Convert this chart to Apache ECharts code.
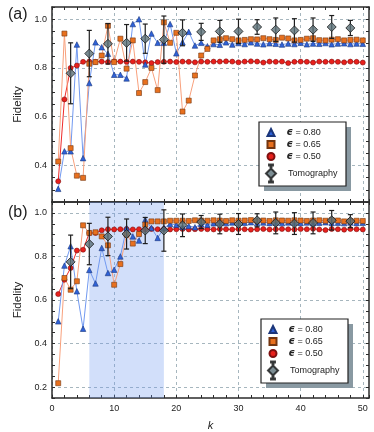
<!DOCTYPE html>
<html>
<head>
<meta charset="utf-8">
<script src="https://cdn.jsdelivr.net/npm/echarts@6/dist/echarts.min.js"></script>
<style>
html, body { margin: 0; padding: 0; background: #fff; }
#main { width: 374px; height: 432px; }
</style>
</head>
<body>
<div id="main"></div>
<script>
var kVals = [1,2,3,4,5,6,7,8,9,10,11,12,13,14,15,16,17,18,19,20,21,22,23,24,25,
             26,27,28,29,30,31,32,33,34,35,36,37,38,39,40,41,42,43,44,45,46,47,48,49,50];
var tomoK = [3,6,9,12,15,18,21,24,27,30,33,36,39,42,45,48];

// panel (a)
var topE80 = [0.304,0.458,0.458,0.896,0.430,0.738,0.905,0.885,0.858,0.772,
              0.772,0.757,0.980,1.000,0.814,0.941,0.903,0.903,0.980,0.860,
              0.905,0.948,0.892,0.903,0.889,0.898,0.895,0.905,0.896,0.902,
              0.898,0.905,0.900,0.897,0.901,0.899,0.896,0.900,0.898,0.903,
              0.897,0.900,0.899,0.902,0.897,0.900,0.901,0.898,0.900,0.899];
var topE65 = [0.416,0.941,0.471,0.358,0.349,0.817,0.824,0.851,0.973,0.824,
              0.920,0.797,0.913,0.697,0.742,0.800,0.709,0.987,0.903,0.944,
              0.621,0.666,0.769,0.851,0.878,0.913,0.918,0.922,0.918,0.913,
              0.915,0.918,0.917,0.922,0.918,0.915,0.924,0.921,0.913,0.915,
              0.920,0.922,0.914,0.913,0.916,0.918,0.913,0.915,0.916,0.913];
var topE50 = [0.335,0.671,0.800,0.810,0.825,0.826,0.825,0.826,0.824,0.827,
              0.826,0.825,0.826,0.825,0.823,0.820,0.824,0.825,0.826,0.824,
              0.826,0.825,0.823,0.826,0.825,0.826,0.826,0.827,0.826,0.823,
              0.826,0.827,0.826,0.822,0.826,0.825,0.826,0.820,0.825,0.826,
              0.825,0.822,0.826,0.825,0.826,0.825,0.823,0.826,0.825,0.822];
var topTomo = [0.778,0.859,0.899,0.903,0.920,0.916,0.944,0.948,0.950,0.950,0.968,0.957,0.954,0.957,0.968,0.964];
var topTomoErr = [0.125,0.095,0.083,0.075,0.060,0.097,0.053,0.035,0.045,0.050,0.030,0.048,0.048,0.048,0.047,0.031];

// panel (b)
var botE80 = [0.502,0.758,0.847,0.640,0.468,0.738,0.676,0.839,0.724,0.739,
              0.800,0.931,0.892,0.873,0.969,0.931,0.885,0.931,0.949,0.945,
              0.935,0.940,0.934,0.948,0.945,0.952,0.955,0.953,0.956,0.954,
              0.955,0.957,0.953,0.956,0.954,0.955,0.953,0.956,0.955,0.954,
              0.956,0.953,0.955,0.957,0.954,0.955,0.953,0.956,0.954,0.955];
var botE65 = [0.218,0.701,0.647,0.686,0.943,0.908,0.911,0.892,0.851,0.670,
              0.765,0.900,0.859,0.903,0.946,0.961,0.961,0.961,0.964,0.964,
              0.964,0.963,0.966,0.965,0.964,0.966,0.965,0.963,0.966,0.964,
              0.965,0.967,0.964,0.965,0.963,0.966,0.965,0.964,0.966,0.965,
              0.963,0.965,0.966,0.964,0.967,0.965,0.961,0.963,0.964,0.963];
var botE50 = [0.627,0.693,0.747,0.827,0.831,0.908,0.908,0.920,0.925,0.924,
              0.925,0.926,0.924,0.925,0.923,0.926,0.925,0.926,0.924,0.925,
              0.926,0.924,0.925,0.926,0.925,0.924,0.926,0.925,0.924,0.926,
              0.925,0.923,0.925,0.926,0.924,0.925,0.926,0.925,0.924,0.926,
              0.925,0.927,0.924,0.921,0.926,0.925,0.923,0.926,0.925,0.924];
var botTomo = [0.775,0.857,0.892,0.903,0.919,0.919,0.943,0.958,0.949,0.949,0.966,0.954,0.951,0.954,0.966,0.962];
var botTomoErr = [0.123,0.095,0.088,0.069,0.060,0.095,0.052,0.030,0.045,0.048,0.030,0.050,0.050,0.050,0.045,0.030];

var shadeRange = [6, 18];
var names = ['ϵ = 0.80', 'ϵ = 0.65', 'ϵ = 0.50', 'Tomography'];

var myChart = echarts.init(document.getElementById('main'));

var AX = '#2b2b2b';
var GRIDC = '#a6b6be';
var NONE = 'rgba(0,0,0,0)';
var FONT = 'Liberation Sans';

function pairs(xs, ys) {
    return xs.map(function (x, i) { return [x, ys[i]]; });
}
function errData(xs, ys, es) {
    return xs.map(function (x, i) { return [x, ys[i] - es[i], ys[i] + es[i]]; });
}

function errBar(params, api) {
    var x = api.value(0);
    var lo = api.coord([x, api.value(1)]);
    var hi = api.coord([x, api.value(2)]);
    var w = 2.5;
    var st = { stroke: '#1e1e1e', lineWidth: 1.2 };
    return {
        type: 'group',
        children: [
            { type: 'line', shape: { x1: lo[0], y1: lo[1], x2: hi[0], y2: hi[1] }, style: st },
            { type: 'line', shape: { x1: lo[0] - w, y1: lo[1], x2: lo[0] + w, y2: lo[1] }, style: st },
            { type: 'line', shape: { x1: hi[0] - w, y1: hi[1], x2: hi[0] + w, y2: hi[1] }, style: st }
        ]
    };
}

function panelSeries(g, e80, e65, e50, tomo, err, shade) {
    var s = [];
    if (shade) {
        s.push({
            type: 'line', xAxisIndex: g * 2, yAxisIndex: g * 2, data: [], silent: true, z: 1,
            markArea: {
                silent: true,
                itemStyle: { color: 'rgba(110,152,239,0.31)' },
                data: [[{ xAxis: shade[0] }, { xAxis: shade[1] }]]
            }
        });
    }
    s.push({
        name: names[2], type: 'line', xAxisIndex: g * 2, yAxisIndex: g * 2,
        data: pairs(kVals, e50), symbol: 'circle', symbolSize: 5,
        lineStyle: { color: '#ee2a2a', width: 1 },
        itemStyle: { color: '#e8201c', borderColor: '#7e1010', borderWidth: 0.6 }, z: 2
    });
    s.push({
        name: names[0], type: 'line', xAxisIndex: g * 2, yAxisIndex: g * 2,
        data: pairs(kVals, e80), symbol: 'triangle', symbolSize: 5.5,
        lineStyle: { color: '#7199f0', width: 1 },
        itemStyle: { color: '#2f62d8', borderColor: '#1b367a', borderWidth: 0.6 }, z: 2
    });
    s.push({
        name: names[1], type: 'line', xAxisIndex: g * 2, yAxisIndex: g * 2,
        data: pairs(kVals, e65), symbol: 'rect', symbolSize: 5,
        lineStyle: { color: '#f8a07c', width: 1 },
        itemStyle: { color: '#e8701e', borderColor: '#733510', borderWidth: 0.6 }, z: 2
    });
    s.push({
        type: 'custom', xAxisIndex: g * 2, yAxisIndex: g * 2,
        data: errData(tomoK, tomo, err), renderItem: errBar,
        encode: { x: 0, y: [1, 2] }, z: 3, silent: true
    });
    s.push({
        name: names[3], type: 'scatter', xAxisIndex: g * 2, yAxisIndex: g * 2,
        data: pairs(tomoK, tomo), symbol: 'diamond', symbolSize: 9,
        itemStyle: { color: '#5b7078', borderColor: '#161616', borderWidth: 1 }, z: 4
    });
    return s;
}

function xAx(g, pos, labels) {
    return {
        type: 'value', gridIndex: g, position: pos, min: 0, max: 51, interval: 2,
        axisLine: { onZero: false, lineStyle: { color: AX, width: 1.5 } },
        axisTick: { inside: true, length: 3, lineStyle: { color: AX, width: 1 } },
        axisLabel: {
            show: labels, margin: 6, fontSize: 9, color: '#222', fontFamily: FONT,
            formatter: function (v) { return v % 10 === 0 ? String(v) : ''; }
        },
        splitLine: {
            show: pos === 'bottom',
            lineStyle: { type: [3, 3], width: 1, color: [GRIDC, NONE, NONE, NONE, NONE] }
        }
    };
}

function yAx(g, pos, min, colors) {
    var left = pos === 'left';
    return {
        type: 'value', gridIndex: g, position: pos, min: min, max: 1.05, interval: 0.05,
        name: left ? 'Fidelity' : '', nameLocation: 'middle', nameGap: 21,
        nameTextStyle: { fontSize: 11.5, color: '#222', fontFamily: FONT },
        axisLine: { onZero: false, lineStyle: { color: AX, width: 1.5 } },
        axisTick: { inside: true, length: 3, lineStyle: { color: AX, width: 1 } },
        axisLabel: {
            show: left, margin: 5, fontSize: 9, color: '#222', fontFamily: FONT,
            formatter: function (v) {
                var r = Math.round(v * 5);
                return Math.abs(v * 5 - r) < 1e-6 ? (r / 5).toFixed(1) : '';
            }
        },
        splitLine: { show: left, lineStyle: { type: [3, 3], width: 1, color: colors } }
    };
}

var tomoIcon = 'path://M3,0H7V1H5.5V4.5L10,9L5.5,13.5V17H7V18H3V17H4.5V13.5L0,9L4.5,4.5V1H3Z';

function legendsFor(left, top) {
    var ts = {
        fontSize: 9, color: '#222', fontFamily: FONT, lineHeight: 9, padding: [0, 0, 0, 7],
        rich: { e: { fontSize: 10, fontWeight: 'bold', fontStyle: 'italic', fontFamily: 'DejaVu Sans', lineHeight: 9 } }
    };
    return [{
        z: 20, orient: 'vertical', left: left, top: top, padding: 0,
        itemWidth: 7, itemHeight: 7, itemGap: 2, selectedMode: false,
        lineStyle: { width: 0, opacity: 0 },
        data: [{ name: names[0], icon: 'triangle' }, { name: names[1], icon: 'rect' }, { name: names[2], icon: 'circle' }],
        formatter: function (n) { return n.replace('ϵ', '{e|ϵ}'); },
        textStyle: ts
    }, {
        z: 20, orient: 'vertical', left: left - 1.5, top: top + 36, padding: 0,
        itemWidth: 10, itemHeight: 18, selectedMode: false,
        data: [{ name: names[3], icon: tomoIcon }],
        textStyle: ts
    }];
}

function box(x, y) {
    return [
        { type: 'rect', z: 10, shape: { x: x + 5, y: y + 5, width: 87, height: 64 }, style: { fill: '#8999a2' } },
        { type: 'rect', z: 11, shape: { x: x, y: y, width: 87, height: 64 }, style: { fill: '#fff', stroke: '#222', lineWidth: 1.2 } }
    ];
}

var option = {
    animation: false,
    textStyle: { fontFamily: FONT },
    grid: [
        { left: 52, right: 5, top: 7, height: 195 },
        { left: 52, right: 5, top: 202, height: 196 }
    ],
    xAxis: [
        xAx(0, 'bottom', false),
        xAx(0, 'top', false),
        Object.assign(xAx(1, 'bottom', true), {
            name: 'k', nameLocation: 'middle', nameGap: 22,
            nameTextStyle: { fontStyle: 'italic', fontSize: 11, color: '#222', fontFamily: FONT }
        }),
        xAx(1, 'top', false)
    ],
    yAxis: [
        yAx(0, 'left', 0.25, [NONE, NONE, NONE, GRIDC]),
        yAx(0, 'right', 0.25, [NONE]),
        yAx(1, 'left', 0.15, [NONE, GRIDC, NONE, NONE]),
        yAx(1, 'right', 0.15, [NONE])
    ],
    legend: legendsFor(266.5, 127.5).concat(legendsFor(268.5, 324.5)),
    graphic: box(259, 122).concat(box(261, 319)).concat([
        { type: 'text', left: 8, top: 7, style: { text: '(a)', fontSize: 16, fill: '#222', fontFamily: FONT } },
        { type: 'text', left: 8, top: 205, style: { text: '(b)', fontSize: 16, fill: '#222', fontFamily: FONT } }
    ]),
    series: panelSeries(0, topE80, topE65, topE50, topTomo, topTomoErr, null)
        .concat(panelSeries(1, botE80, botE65, botE50, botTomo, botTomoErr, shadeRange))
};

myChart.setOption(option);
</script>
</body>
</html>
